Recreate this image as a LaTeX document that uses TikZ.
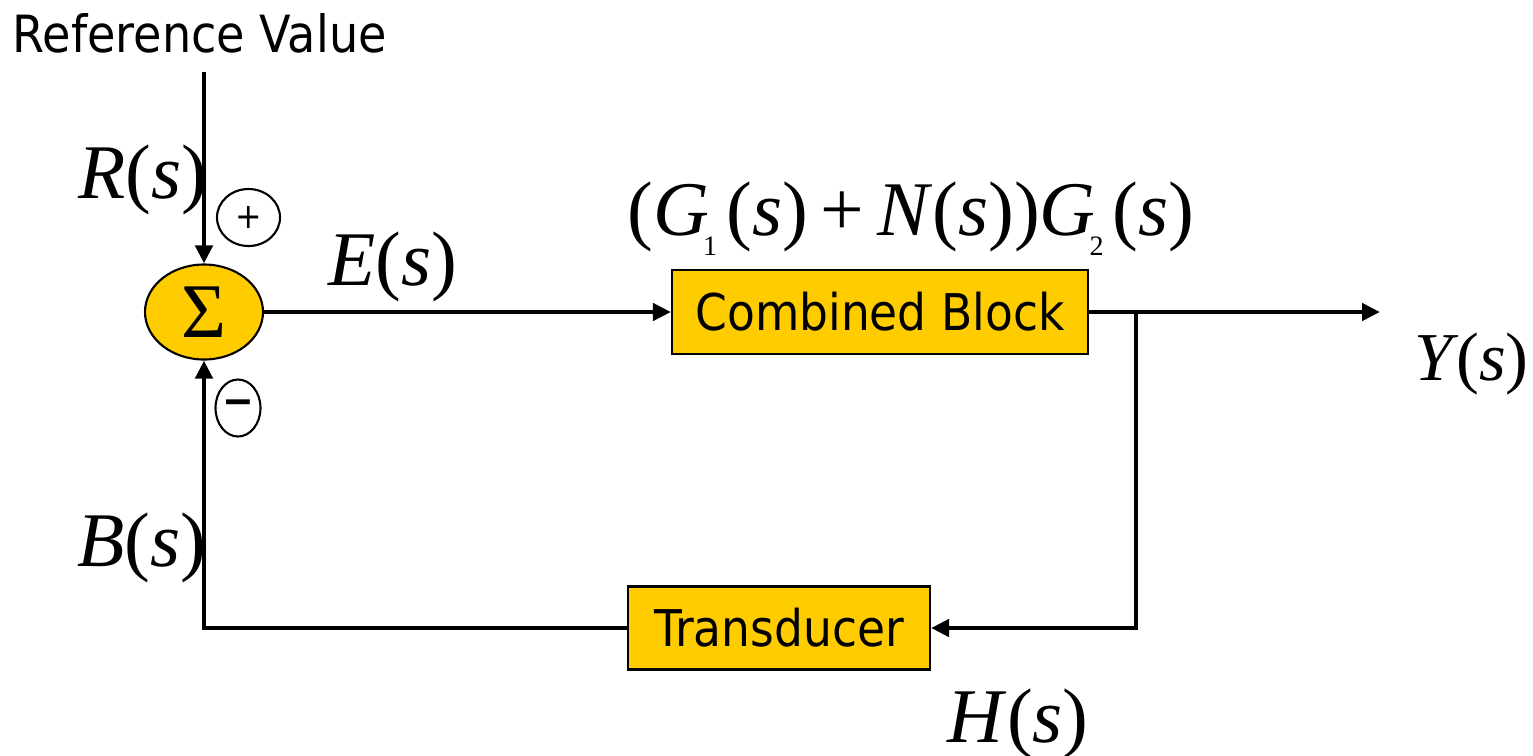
\documentclass[tikz,border=0pt]{standalone}
\usepackage{fontspec}
\usepackage{tikz}
\usetikzlibrary{arrows.meta,positioning,shapes.geometric}
\usepackage{xcolor}
\definecolor{ctlyellow}{RGB}{255,204,0}
\newfontfamily\tahfont[FakeStretch=0.9]{DejaVu Sans}
\newfontfamily\tmsfont{Liberation Serif}
\tikzset{
  sumnode/.style={ellipse,draw=black,line width=0.6pt,fill=ctlyellow,minimum width=11.8mm,minimum height=9.5mm,inner sep=0pt},
  signnode/.style={ellipse,draw=black,line width=0.6pt,inner sep=0pt,font=\tahfont\fontsize{10}{10}\selectfont},
  blocknode/.style={rectangle,draw=black,line width=0.6pt,fill=ctlyellow,inner sep=0pt,font=\tahfont\fontsize{14.4}{17}\selectfont},
  siglabel/.style={anchor=base west,inner sep=0pt,font=\tmsfont\fontsize{22}{26}\selectfont},
  sigline/.style={line width=1.4pt},
  sigarrow/.style={sigline,-{Triangle[length=1.8mm,width=1.7mm]}}
}
\newcommand{\gsub}[1]{\kern-.08em\lower.26em\hbox{\fontsize{8}{8}\selectfont#1}\kern.12em}

\begin{document}
\begin{tikzpicture}
  \useasboundingbox (0,0) rectangle (15.33,7.55);
  % blocks
  \node[sumnode] (sum) at (2.04,4.43) {\tmsfont\fontsize{22}{22}\selectfont Σ};
  \node[blocknode,minimum width=41.6mm,minimum height=8.4mm] (block) at (8.80,4.43) {Combined Block};
  \node[blocknode,minimum width=30.2mm,minimum height=8.3mm] (trans) at (7.79,1.27) {Transducer};
  \node[signnode,minimum width=6.3mm,minimum height=5.7mm] (plus) at (2.485,5.375) {+};
  \node[signnode,minimum width=4.3mm,minimum height=5.7mm,font=\tahfont\fontsize{12}{12}\selectfont\bfseries] (minus) at (2.38,3.47) {−};
  \coordinate (refin) at (2.04,6.83);
  \coordinate (branch) at (11.36,4.43);
  \coordinate (yout) at (13.80,4.43);
  % labels
  \node[anchor=base west,inner sep=0pt,font=\tahfont\fontsize{14.6}{17}\selectfont] (reflbl) at (0.12,7.03) {Reference Value};
  \node[siglabel] (rlbl) at (0.78,5.57) {\textit{R}(\textit{s})};
  \node[siglabel] (elbl) at (3.28,4.70) {\textit{E}(\textit{s})};
  \node[siglabel] (blbl) at (0.77,1.89) {\textit{B}(\textit{s})};
  \node[siglabel] (glbl) at (6.27,5.20)
    {(\textit{G}\gsub{1}(\textit{s})\,+\,\textit{N}(\textit{s}))\textit{G}\gsub{2}(\textit{s})};
  \node[siglabel,font=\tmsfont\fontsize{19.5}{23}\selectfont] (ylbl) at (14.14,3.75) {\textit{Y}\kern-.04em(\textit{s})};
  \node[siglabel] (hlbl) at (9.47,0.13) {\textit{H}(\textit{s})};
  % signals
  \draw[sigarrow] (refin) -- (sum.north);
  \draw[sigarrow] (sum.east) -- (block.west);
  \draw[sigarrow] (block.east) -- (yout);
  \draw[sigarrow] (branch) |- (trans.east);
  \draw[sigarrow] (trans.west) -| (sum.south);
\end{tikzpicture}
\end{document}
